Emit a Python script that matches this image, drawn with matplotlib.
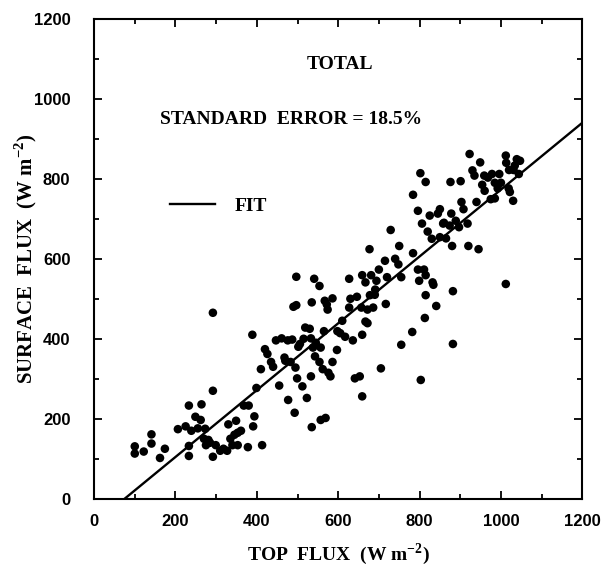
import matplotlib.pyplot as plt
import numpy as np
from matplotlib.ticker import MultipleLocator

plt.rcParams['mathtext.fontset'] = 'custom'
plt.rcParams['mathtext.rm'] = 'Liberation Serif:bold'
plt.rcParams['mathtext.bf'] = 'Liberation Serif:bold'

# points (W m-2)
top_flux = [100, 100, 122, 141, 141, 162, 174, 206, 225, 233, 233, 233, 239, 249,
            255, 262, 264, 273, 275, 281, 292, 292, 292, 299, 318, 327, 330, 340,
            349, 353, 361, 353, 368, 380, 378, 389, 394, 391, 413, 399, 420, 426,
            410, 435, 447, 455, 461, 468, 476, 477, 483, 487, 490, 495, 497, 497,
            493, 499, 502, 506, 512, 519, 523, 530, 533, 535, 535, 533, 538, 541,
            543, 554, 554, 557, 557, 562, 569, 567, 572, 574, 565, 576, 581, 586,
            586, 597, 598, 605, 617, 627, 627, 636, 641, 646, 653, 657, 659, 659,
            659, 667, 672, 667, 672, 677, 678, 681, 686, 691, 694, 700, 705, 717,
            715, 720, 729, 748, 750, 755, 755, 784, 784, 782, 796, 796, 799, 802,
            803, 806, 811, 813, 815, 815, 815, 820, 825, 832, 834, 841, 845, 850,
            850, 858, 865, 874, 876, 878, 880, 882, 882, 889, 897, 901, 903, 908,
            918, 920, 923, 930, 935, 940, 945, 949, 954, 959, 968, 975, 978, 985,
            992, 996, 985, 1012, 1012, 1013, 1019, 1020, 1022, 1030, 1034, 1039,
            1044, 1047, 1031,
            270, 285, 310, 335, 345, 440, 470, 515, 545, 610, 630, 690, 740, 830,
            860, 960, 1000]
surface_flux = [131, 113, 118, 161, 138, 102, 125, 174, 181, 233, 132, 107, 170, 205,
                176, 197, 236, 175, 134, 147, 105, 465, 270, 134, 125, 120, 186, 134,
                195, 165, 170, 134, 233, 233, 129, 410, 206, 181, 134, 277, 374, 362,
                324, 342, 396, 283, 401, 353, 396, 247, 342, 398, 480, 328, 484, 555,
                215, 301, 380, 387, 281, 428, 252, 425, 306, 179, 491, 401, 378, 550,
                356, 532, 342, 378, 197, 324, 202, 495, 486, 473, 419, 315, 306, 501,
                342, 372, 419, 414, 405, 550, 478, 396, 301, 505, 306, 478, 559, 410,
                256, 443, 439, 541, 473, 624, 509, 559, 478, 523, 545, 573, 326, 487,
                595, 554, 672, 586, 632, 554, 385, 614, 760, 417, 720, 573, 545, 814,
                297, 688, 573, 452, 792, 509, 559, 668, 708, 541, 535, 482, 713, 724,
                654, 688, 651, 683, 792, 713, 632, 519, 387, 695, 679, 794, 742, 724,
                688, 632, 862, 821, 808, 742, 624, 841, 785, 808, 803, 749, 812, 790,
                776, 812, 751, 537, 858, 840, 776, 822, 767, 745, 833, 849,
                812, 845, 822,
                150, 140, 120, 150, 160, 330, 345, 400, 390, 445, 500, 510, 600, 650,
                690, 770, 790]

# regression line
fit_x = [75, 1200]
fit_slope = 0.8356
fit_intercept = -62.7

fig = plt.figure(figsize=(6.11, 5.70), dpi=100)
ax = fig.add_axes([0.154, 0.125, 0.799, 0.842])

ax.scatter(top_flux, surface_flux, s=38, c='black', edgecolors='none', zorder=3)
xf = np.array(fit_x)
ax.plot(xf, fit_slope * xf + fit_intercept, color='black', lw=1.7, label='FIT')

ax.set_xlim(0, 1200)
ax.set_ylim(0, 1200)
ax.xaxis.set_major_locator(MultipleLocator(200))
ax.yaxis.set_major_locator(MultipleLocator(200))
ax.xaxis.set_minor_locator(MultipleLocator(100))
ax.yaxis.set_minor_locator(MultipleLocator(100))
ax.tick_params(which='both', direction='in', top=True, right=True, width=1.3)
ax.tick_params(which='major', length=6)
ax.tick_params(which='minor', length=3.5)
ax.tick_params(axis='x', which='major', pad=11)
ax.tick_params(axis='y', which='major', pad=17)
for sp in ax.spines.values():
    sp.set_linewidth(1.5)

for lab in ax.get_xticklabels() + ax.get_yticklabels():
    lab.set_fontfamily('Liberation Sans')
    lab.set_fontweight('bold')
    lab.set_fontsize(12)

serif = {'family': 'Liberation Serif', 'weight': 'bold', 'size': 14}
ax.set_xlabel('TOP  FLUX  (W m$^{-2}$)', fontdict=serif)
ax.set_ylabel('SURFACE  FLUX  (W m$^{-2}$)', fontdict=dict(serif, size=15))
ax.xaxis.set_label_coords(0.5, -0.088)
ax.yaxis.set_label_coords(-0.113, 0.5)

ax.text(605, 1087, 'TOTAL', ha='center', va='center', fontdict=serif)
ax.text(484, 947, 'STANDARD  ERROR = 18.5%', ha='center', va='center', fontdict=serif)

leg = ax.legend(loc='center left', bbox_to_anchor=(0.12, 0.609), frameon=False,
                handlelength=2.3, handletextpad=1.0,
                prop={'family': 'Liberation Serif', 'weight': 'bold', 'size': 14})

fig.savefig('out.png', dpi=100)
